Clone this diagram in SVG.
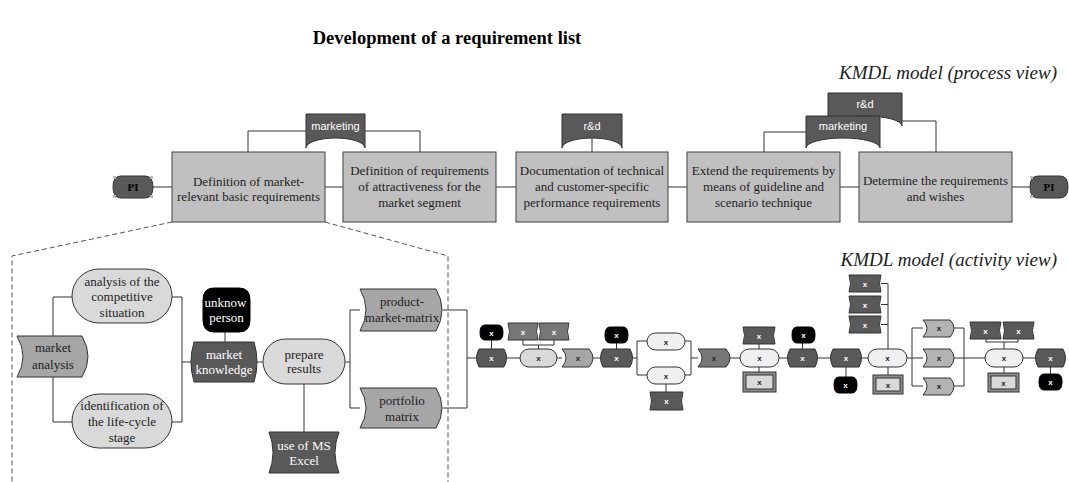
<svg xmlns="http://www.w3.org/2000/svg" width="1069" height="482" viewBox="0 0 1069 482">
<style>
.box{fill:#c0c0c0;stroke:#404040;stroke-width:1}
.org{fill:#595959;stroke:#333;stroke-width:1}
.pi{fill:#595959;stroke:#333;stroke-width:1}
.act{fill:#d9d9d9;stroke:#333;stroke-width:1}
.act2{fill:#f0f0f0;stroke:#333;stroke-width:1}
.info{fill:#a6a6a6;stroke:#333;stroke-width:1}
.info2{fill:#777;stroke:#333;stroke-width:1}
.info3{fill:#b3b3b3;stroke:#333;stroke-width:1}
.dark{fill:#595959;stroke:#333;stroke-width:1}
.person{fill:#000;stroke:#000}
.dbl{fill:#8c8c8c;stroke:#333}
.dbli{fill:#d9d9d9;stroke:#333}
.ln{stroke:#333;fill:none;stroke-width:1}
.dash{stroke:#555;fill:none;stroke-width:1;stroke-dasharray:5 3}
.t{font-family:"Liberation Serif","Times New Roman",serif;font-size:13px;fill:#222;text-anchor:middle}
.tw{font-family:"Liberation Serif","Times New Roman",serif;font-size:13px;fill:#fff;text-anchor:middle}
.lab{font-family:"Liberation Sans",Arial,sans-serif;font-size:11px;fill:#fff;text-anchor:middle}
.pit{font-family:"Liberation Serif","Times New Roman",serif;font-size:11px;font-weight:bold;fill:#000;text-anchor:middle}
.x{font-family:"Liberation Sans",Arial,sans-serif;font-size:8px;font-weight:bold;fill:#fff;text-anchor:middle}
.xd{font-family:"Liberation Sans",Arial,sans-serif;font-size:8px;font-weight:bold;fill:#222;text-anchor:middle}
.title{font-family:"Liberation Serif","Times New Roman",serif;font-size:18.5px;font-weight:bold;fill:#000;text-anchor:middle}
.view{font-family:"Liberation Serif","Times New Roman",serif;font-size:19px;font-style:italic;fill:#222;text-anchor:end}
</style>

<text class="title" x="447" y="44">Development of a requirement list</text>
<text class="view" x="1057" y="79">KMDL model (process view)</text>
<text class="view" x="1057" y="266">KMDL model (activity view)</text>

<g id="connectors">
  <!-- process view -->
  <path class="ln" d="M153,187 H172 M325,187 H343 M496,187 H516 M668,187 H687 M840,187 H859 M1012,187 H1030"/>
  <path class="ln" d="M248,152 V131 H306 M365,131 H420 V152"/>
  <path class="ln" d="M592,138 V152"/>
  <path class="ln" d="M764,152 V132 H806 M902,121 H936 V152"/>
  <!-- dashed zoom lines -->
  <path class="dash" d="M172,222 L12,256 V482 M325,222 L448,256 V482"/>
  <!-- activity view left -->
  <path class="ln" d="M53,336 V297 H72 M53,377 V422 H72"/>
  <path class="ln" d="M172,297 H182 V422 H172 M182,362 H191"/>
  <path class="ln" d="M225,332 V342"/>
  <path class="ln" d="M257,362 H263"/>
  <path class="ln" d="M304,384 V432"/>
  <path class="ln" d="M345,362 H350 M350,310 V408 M350,310 H360 M350,408 H360"/>
  <path class="ln" d="M443,310 H467 V408 H443 M467,358 H476"/>
  <!-- activity chain -->
  <path class="ln" d="M491.5,340 V349 M507,358 H520"/>
  <path class="ln" d="M523,340 V345 H554 V340 M538.5,345 V349"/>
  <path class="ln" d="M557,358 H562 M593,358 H600 M616.5,343 V349"/>
  <path class="ln" d="M633,358 H637 M637,341 V375 M637,341 H647 M637,375 H647 M666,384 V392"/>
  <path class="ln" d="M685,341 H691 M685,375 H691 M691,341 V375 M691,358 H698"/>
  <path class="ln" d="M730,358 H740 M759,344 V349 M759,367 V372 M779,358 H787 M802.5,343 V349"/>
  <path class="ln" d="M818,358 H830 M846,367 V377 M862,358 H868"/>
  <path class="ln" d="M881,283.5 H888 M881,304.5 H888 M881,324.5 H888 M888,283.5 V349 M888,367 V375"/>
  <path class="ln" d="M907,358 H912 M912,328 V386 M912,328 H923 M912,358 H923 M912,386 H923"/>
  <path class="ln" d="M954,328 H964 M954,358 H964 M954,386 H964 M964,328 V386 M964,358 H985"/>
  <path class="ln" d="M986,339 V342 H1018 V339 M1004,342 V349 M1004,367 V373 M1023,358 H1035 M1050.5,367 V374"/>
</g>

<!-- process view nodes -->
<g id="pi-start">
  <path class="pi" d="M121,176 H145 Q153,176 153,187 Q153,198 145,198 H121 Q113,198 113,187 Q113,176 121,176 Z"/>
  <rect x="113" y="176" width="3" height="3" fill="#bbb"/><rect x="150" y="176" width="3" height="3" fill="#bbb"/>
  <rect x="113" y="195" width="3" height="3" fill="#bbb"/><rect x="150" y="195" width="3" height="3" fill="#bbb"/>
  <text class="pit" x="133" y="191">PI</text>
</g>
<g id="p1">
  <rect class="box" x="172" y="152" width="153" height="70"/>
  <text class="t" x="248.5" y="185.5">Definition of market-</text>
  <text class="t" x="248.5" y="200.5">relevant basic requirements</text>
</g>
<g id="p2">
  <rect class="box" x="343" y="152" width="153" height="70"/>
  <text class="t" x="419.5" y="174.5">Definition of requirements</text>
  <text class="t" x="419.5" y="190.5">of attractiveness for the</text>
  <text class="t" x="419.5" y="206.5">market segment</text>
</g>
<g id="p3">
  <rect class="box" x="516" y="152" width="152" height="70"/>
  <text class="t" x="592" y="174.5">Documentation of technical</text>
  <text class="t" x="592" y="190.5">and customer-specific</text>
  <text class="t" x="592" y="206.5">performance requirements</text>
</g>
<g id="p4">
  <rect class="box" x="687" y="152" width="153" height="70"/>
  <text class="t" x="763.5" y="174.5">Extend the requirements by</text>
  <text class="t" x="763.5" y="190.5">means of guideline and</text>
  <text class="t" x="763.5" y="206.5">scenario technique</text>
</g>
<g id="p5">
  <rect class="box" x="859" y="152" width="153" height="70"/>
  <text class="t" x="935.5" y="184.5">Determine the requirements</text>
  <text class="t" x="935.5" y="200.5">and wishes</text>
</g>
<g id="pi-end">
  <path class="pi" d="M1038,176 H1060 Q1068,176 1068,187 Q1068,198 1060,198 H1038 Q1030,198 1030,187 Q1030,176 1038,176 Z"/>
  <rect x="1030" y="176" width="3" height="3" fill="#bbb"/><rect x="1030" y="195" width="3" height="3" fill="#bbb"/>
  <text class="pit" x="1049" y="191">PI</text>
</g>
<g id="org-marketing-1">
  <path class="org" d="M306,114 H365 V148 A29.5,10 0 0 0 306,148 Z"/>
  <text class="lab" x="335.5" y="130">marketing</text>
</g>
<g id="org-rd-1">
  <path class="org" d="M562,114 H622 V148 A30,10 0 0 0 562,148 Z"/>
  <text class="lab" x="592" y="130">r&amp;d</text>
</g>
<g id="org-rd-2">
  <path class="org" d="M828,93 H902 V126 A37,10 0 0 0 828,126 Z"/>
  <text class="lab" x="865" y="108">r&amp;d</text>
</g>
<g id="org-marketing-2">
  <path class="org" d="M806,116 H880 V148 A37,10 0 0 0 806,148 Z"/>
  <text class="lab" x="843" y="130">marketing</text>
</g>

<!-- activity view left -->
<g id="market-analysis">
  <path class="info" d="M17,336 H82 Q94,356.5 82,377 H17 Q29,356.5 17,336 Z"/>
  <text class="t" x="53" y="352">market</text>
  <text class="t" x="53" y="369">analysis</text>
</g>
<g id="analysis-competitive">
  <rect class="act" x="72" y="269" width="100" height="54" rx="27"/>
  <text class="t" x="122" y="286">analysis of the</text>
  <text class="t" x="122" y="301">competitive</text>
  <text class="t" x="122" y="317">situation</text>
</g>
<g id="identification">
  <rect class="act" x="72" y="394" width="100" height="54" rx="27"/>
  <text class="t" x="122" y="410">identification of</text>
  <text class="t" x="122" y="426">the life-cycle</text>
  <text class="t" x="122" y="442">stage</text>
</g>
<g id="unknown-person">
  <path class="person" d="M214,288 H239 Q250,288 250,300 V320 Q250,332 239,332 H214 Q203,332 203,320 V300 Q203,288 214,288 Z"/>
  <text class="tw" x="225.5" y="307">unknow</text>
  <text class="tw" x="226.5" y="322">person</text>
</g>
<g id="market-knowledge">
  <path class="dark" d="M194,342 H254 Q260,362 254,382 H194 Q188,362 194,342 Z"/>
  <text class="tw" x="224" y="359">market</text>
  <text class="tw" x="224" y="374">knowledge</text>
</g>
<g id="prepare-results">
  <rect class="act" x="263" y="339" width="82" height="45" rx="22.5"/>
  <text class="t" x="304" y="359">prepare</text>
  <text class="t" x="304" y="373">results</text>
</g>
<g id="ms-excel">
  <path class="dark" d="M269,432 H339 Q331,452.5 339,473 H269 Q277,452.5 269,432 Z"/>
  <text class="tw" x="304" y="450">use of MS</text>
  <text class="tw" x="304" y="465">Excel</text>
</g>
<g id="product-market-matrix">
  <path class="info" d="M360,289 H436 Q448,310 436,331 H360 Q372,310 360,289 Z"/>
  <text class="t" x="402" y="306">product-</text>
  <text class="t" x="402" y="322">market-matrix</text>
</g>
<g id="portfolio-matrix">
  <path class="info" d="M360,388 H436 Q448,408 436,428 H360 Q372,408 360,388 Z"/>
  <text class="t" x="402" y="405">portfolio</text>
  <text class="t" x="402" y="421">matrix</text>
</g>

<!-- activity chain -->
<g id="k1"><path class="dark" d="M479,349 H504 Q509,358 504,367 H479 Q474,358 479,349 Z"/><text class="x" x="491.5" y="361">x</text></g>
<g id="pe1"><path class="person" d="M485,325 H498 Q503,325 503,332.5 Q503,340 498,340 H485 Q480,340 480,332.5 Q480,325 485,325 Z"/><text class="x" x="491.5" y="335.5">x</text></g>
<g id="a1"><rect class="act" x="520" y="349" width="37" height="18" rx="9"/><text class="xd" x="538.5" y="361">x</text></g>
<g id="s1"><path class="info2" d="M508,323 H538 Q535,331.5 538,340 H508 Q511,331.5 508,323 Z"/><text class="x" x="523" y="334.5">x</text></g>
<g id="s2"><path class="info2" d="M539,323 H569 Q566,331.5 569,340 H539 Q542,331.5 539,323 Z"/><text class="x" x="554" y="334.5">x</text></g>
<g id="i1"><path class="info" d="M562,349 H589 Q597,358 589,367 H562 Q570,358 562,349 Z"/><text class="xd" x="578" y="361">x</text></g>
<g id="k2"><path class="dark" d="M603,349 H630 Q635,358 630,367 H603 Q598,358 603,349 Z"/><text class="x" x="616.5" y="361">x</text></g>
<g id="pe2"><path class="person" d="M610,327 H623 Q628,327 628,335 Q628,343 623,343 H610 Q605,343 605,335 Q605,327 610,327 Z"/><text class="x" x="616.5" y="338">x</text></g>
<g id="a2"><rect class="act2" x="647" y="333" width="38" height="17" rx="8.5"/><text class="xd" x="666" y="344.5">x</text></g>
<g id="a3"><rect class="act2" x="647" y="367" width="38" height="17" rx="8.5"/><text class="xd" x="666" y="378.5">x</text></g>
<g id="s3"><path class="dark" d="M650,392 H683 Q680,401 683,410 H650 Q653,401 650,392 Z"/><text class="x" x="666.5" y="404">x</text></g>
<g id="i2"><path class="info2" d="M698,349 H726 Q734,358 726,367 H698 Q706,358 698,349 Z"/><text class="xd" x="714" y="361">x</text></g>
<g id="a4"><rect class="act2" x="740" y="349" width="39" height="18" rx="9"/><text class="xd" x="759.5" y="361">x</text></g>
<g id="s4"><path class="dark" d="M743,327 H775 Q772,335.5 775,344 H743 Q746,335.5 743,327 Z"/><text class="x" x="759" y="338.5">x</text></g>
<g id="d1"><rect class="dbl" x="743" y="372" width="33" height="20"/><rect class="dbli" x="746" y="375" width="27" height="14"/><text class="xd" x="759.5" y="385">x</text></g>
<g id="k3"><path class="dark" d="M790,349 H815 Q820,358 815,367 H790 Q785,358 790,349 Z"/><text class="x" x="802.5" y="361">x</text></g>
<g id="pe3"><path class="person" d="M797,327 H810 Q815,327 815,335 Q815,343 810,343 H797 Q792,343 792,335 Q792,327 797,327 Z"/><text class="x" x="803.5" y="338">x</text></g>
<g id="k4"><path class="dark" d="M833,349 H859 Q864,358 859,367 H833 Q828,358 833,349 Z"/><text class="x" x="846" y="361">x</text></g>
<g id="pe4"><path class="person" d="M839,377 H852 Q857,377 857,385 Q857,393 852,393 H839 Q834,393 834,385 Q834,377 839,377 Z"/><text class="x" x="845.5" y="388">x</text></g>
<g id="a5"><rect class="act2" x="868" y="349" width="39" height="18" rx="9"/><text class="xd" x="887.5" y="361">x</text></g>
<g id="s5"><path class="dark" d="M849,275 H881 Q878,283.5 881,292 H849 Q852,283.5 849,275 Z"/><text class="x" x="865" y="286.5">x</text></g>
<g id="s6"><path class="dark" d="M849,296 H881 Q878,304.5 881,313 H849 Q852,304.5 849,296 Z"/><text class="x" x="865" y="307.5">x</text></g>
<g id="s7"><path class="dark" d="M849,316 H881 Q878,324.5 881,333 H849 Q852,324.5 849,316 Z"/><text class="x" x="865" y="327.5">x</text></g>
<g id="d2"><rect class="dbl" x="873" y="375" width="30" height="19"/><rect class="dbli" x="876" y="378" width="24" height="13"/><text class="xd" x="888" y="387.5">x</text></g>
<g id="i3"><path class="info3" d="M923,320 H950 Q958,328 950,337 H923 Q931,328 923,320 Z"/><text class="xd" x="939" y="331">x</text></g>
<g id="i4"><path class="info3" d="M923,349 H950 Q958,358 950,367 H923 Q931,358 923,349 Z"/><text class="xd" x="939" y="361">x</text></g>
<g id="i5"><path class="info3" d="M923,378 H950 Q958,386 950,395 H923 Q931,386 923,378 Z"/><text class="xd" x="939" y="389">x</text></g>
<g id="a6"><rect class="act2" x="985" y="349" width="38" height="18" rx="9"/><text class="xd" x="1004" y="361">x</text></g>
<g id="s8"><path class="dark" d="M970,322 H1001 Q998,330.5 1001,339 H970 Q973,330.5 970,322 Z"/><text class="x" x="985.5" y="333.5">x</text></g>
<g id="s9"><path class="dark" d="M1003,322 H1034 Q1031,330.5 1034,339 H1003 Q1006,330.5 1003,322 Z"/><text class="x" x="1018.5" y="333.5">x</text></g>
<g id="d3"><rect class="dbl" x="988" y="373" width="31" height="19"/><rect class="dbli" x="991" y="376" width="25" height="13"/><text class="xd" x="1003.5" y="385.5">x</text></g>
<g id="k5"><path class="dark" d="M1038,349 H1063 Q1068,358 1063,367 H1038 Q1033,358 1038,349 Z"/><text class="x" x="1050.5" y="361">x</text></g>
<g id="pe5"><path class="person" d="M1044,374 H1057 Q1062,374 1062,382 Q1062,390 1057,390 H1044 Q1039,390 1039,382 Q1039,374 1044,374 Z"/><text class="x" x="1050.5" y="385">x</text></g>
</svg>
